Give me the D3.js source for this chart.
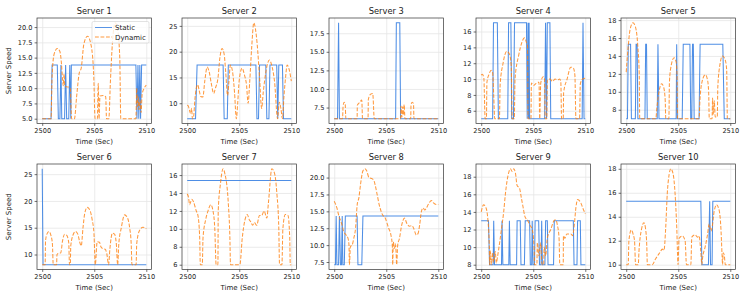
<!DOCTYPE html>
<html>
<head>
<meta charset="utf-8">
<script src="https://cdn.jsdelivr.net/npm/d3@7"></script>
<style>
body { margin: 0; background: #fff; }
text { font-family: "DejaVu Sans", sans-serif; fill: #222; }
.grid line { stroke: #e6e6e6; stroke-width: 0.8; }
.grid path { display: none; }
.axis path, .axis line { stroke: #333; stroke-width: 0.7; }
</style>
</head>
<body>
<div id="chart"></div>
<script>
// chart values
const servers = ['Server 1', 'Server 2', 'Server 3', 'Server 4', 'Server 5',
                 'Server 6', 'Server 7', 'Server 8', 'Server 9', 'Server 10'];
const xTicks = [2500, 2505, 2510];
const yTicks = [
    [5, 7.5, 10, 12.5, 15, 17.5, 20],
    [10, 15, 20, 25],
    [7.5, 10, 12.5, 15, 17.5],
    [6, 8, 10, 12, 14, 16],
    [8, 10, 12, 14, 16, 18],
    [10, 15, 20, 25],
    [6, 8, 10, 12, 14, 16],
    [7.5, 10, 12.5, 15, 17.5, 20],
    [8, 10, 12, 14, 16, 18],
    [10, 12, 14, 16, 18]
];

const static1 = [[2500,5],[2500.85,5],[2500.95,13.8],[2501.45,13.8],[2501.55,5],[2501.7,5],[2501.8,13.8],[2501.88,5],[2502.15,5],[2502.25,13.8],[2502.35,5],[2502.55,5],[2502.65,13.8],[2502.75,5],[2502.8,13.8],[2509.0,13.8],[2509.1,5],[2509.2,13.8],[2509.28,5],[2509.38,13.8],[2509.45,5],[2509.55,13.8],[2510,13.8]];
const dynamic1 = [[2500,5],[2500.85,5],[2500.95,12],[2501.15,15.6],[2501.45,16.5],[2501.7,16],[2501.85,14],[2501.95,11.5],[2502.02,10.4],[2502.1,12.3],[2502.18,10.3],[2502.45,10.2],[2502.7,10],[2502.82,5],[2503.1,5],[2503.3,8.5],[2503.55,12.4],[2503.75,13.3],[2504.0,17.2],[2504.35,18.5],[2504.7,17],[2504.95,12],[2505.08,5],[2505.3,5],[2505.38,10.8],[2505.46,5],[2505.55,8.7],[2505.85,8.8],[2506.1,8.6],[2506.18,5],[2506.4,5],[2506.55,11],[2506.75,17.5],[2507.0,20.7],[2507.25,19.5],[2507.45,15],[2507.55,5],[2509.0,5],[2509.08,10],[2509.15,7],[2509.22,8.6],[2509.3,6.5],[2509.4,8],[2509.5,6],[2509.6,9],[2509.8,10],[2510,10.5]];

const static2 = [[2500,7],[2500.8,7],[2500.95,17.4],[2503.45,17.4],[2503.55,7],[2503.85,7],[2503.95,17.4],[2506.6,17.4],[2506.7,7],[2506.85,7],[2506.95,17.4],[2507.55,17.4],[2507.65,7],[2507.85,7],[2507.95,17.4],[2508.6,17.4],[2508.7,7],[2508.8,17.4],[2509.15,17.4],[2509.25,7],[2510,7]];
const dynamic2 = [[2500,9.6],[2500.1,9.5],[2500.2,8.8],[2500.32,8],[2500.42,9],[2500.5,7],[2500.6,7.2],[2500.75,11],[2501.0,13.6],[2501.15,12.5],[2501.3,11.3],[2501.5,11.2],[2501.7,14.5],[2501.92,17],[2502.1,16.2],[2502.3,14],[2502.55,11.9],[2502.72,13],[2502.95,14.8],[2503.15,19],[2503.35,20.6],[2503.55,19.5],[2503.7,16],[2503.88,11.5],[2504.0,14],[2504.15,17.4],[2504.35,16.2],[2504.55,12],[2504.72,7],[2504.85,10],[2505.0,14.5],[2505.27,16.8],[2505.5,15.5],[2505.7,13.5],[2505.85,10],[2506.0,14],[2506.2,21],[2506.4,25.6],[2506.55,24.5],[2506.72,21.5],[2506.95,15],[2507.15,9],[2507.3,12],[2507.55,16],[2507.9,18.4],[2508.1,17.5],[2508.4,14],[2508.68,7],[2508.85,10.2],[2509.0,9],[2509.15,7],[2509.3,11.5],[2509.45,15],[2509.6,17.4],[2509.8,16.5],[2510,14.3]];

const static3 = [[2500,6],[2500.32,6],[2500.42,18.9],[2500.5,6],[2505.9,6],[2505.97,18.9],[2506.3,18.9],[2506.38,6],[2510,6]];
const dynamic3 = [[2500,6],[2500.8,6],[2500.85,7.6],[2500.95,8.2],[2501.05,8.1],[2501.12,6],[2502.2,6],[2502.22,7.8],[2502.45,8.2],[2502.65,8.5],[2502.72,6],[2503.25,6],[2503.28,8.6],[2503.5,9.3],[2503.7,9.4],[2503.85,6],[2506.38,6],[2506.42,7.7],[2506.5,6.2],[2506.58,7.6],[2506.65,6.5],[2506.72,7.9],[2506.8,6],[2507.35,6],[2507.38,7.9],[2507.5,8.2],[2507.62,8],[2507.66,6],[2510,6]];

const static4 = [[2500,5],[2501.1,5],[2501.18,17.1],[2501.55,17.1],[2501.65,5],[2502.55,5],[2502.63,17.1],[2502.85,17.1],[2502.93,5],[2503.1,5],[2503.2,17.1],[2504.35,17.1],[2504.42,5],[2504.5,17.1],[2504.55,5],[2504.6,17.1],[2504.65,5],[2506.1,5],[2506.18,17.1],[2506.28,5],[2506.35,17.1],[2506.6,17.1],[2506.68,5],[2509.7,5],[2509.78,17.1],[2509.88,5],[2510,5]];
const dynamic4 = [[2500,10.5],[2500.1,10.6],[2500.25,10.2],[2500.38,5],[2500.5,5],[2500.55,9.6],[2500.75,10.6],[2500.95,11.1],[2501.1,10.8],[2501.2,8],[2501.3,5],[2501.75,5],[2501.82,9.3],[2502.1,12],[2502.45,13.5],[2502.7,13.2],[2502.88,11.8],[2502.98,5],[2503.18,5],[2503.25,10],[2503.6,13],[2503.9,14.6],[2504.15,15.2],[2504.35,14.6],[2504.45,14.2],[2504.5,5],[2504.78,5],[2504.82,9.5],[2505.05,9.2],[2505.3,9.5],[2505.55,9.6],[2505.62,5],[2505.72,9.5],[2505.95,10.3],[2506.08,10.1],[2506.15,5],[2506.3,5],[2506.35,9.9],[2506.6,10],[2506.85,9.7],[2507.1,10],[2507.35,9.9],[2507.55,10],[2507.65,9.6],[2507.72,5],[2507.88,5],[2507.92,8.3],[2508.25,10],[2508.6,11.5],[2508.85,11.4],[2509.0,10.5],[2509.1,5],[2509.45,5],[2509.52,9.4],[2509.75,10],[2510,10.1]];

const static5 = [[2500,7],[2500.12,7],[2500.2,15.3],[2500.42,15.3],[2500.5,7],[2500.88,7],[2500.95,15.3],[2501.05,15.3],[2501.12,7],[2501.8,7],[2501.87,15.3],[2501.95,15.3],[2502.02,7],[2502.98,7],[2503.05,15.3],[2503.15,7],[2504.8,7],[2504.85,15.3],[2504.92,7],[2505.38,7],[2505.48,15.3],[2506.12,15.3],[2506.2,7],[2506.3,7],[2506.37,15.3],[2506.45,15.3],[2506.53,7],[2507.0,7],[2507.1,15.3],[2509.28,15.3],[2509.42,7],[2510,7]];
const dynamic5 = [[2500,12.2],[2500.19,15],[2500.35,16.8],[2500.65,17.7],[2500.9,17.2],[2501.12,15],[2501.25,12],[2501.3,7],[2502.85,7],[2502.93,8],[2503.15,10],[2503.4,10.9],[2503.6,10.5],[2503.75,9],[2503.8,7],[2504.1,7],[2504.15,11],[2504.3,12.8],[2504.6,13.8],[2504.8,13.3],[2504.88,12],[2504.93,7],[2507.0,7],[2507.08,9],[2507.3,11.2],[2507.6,11.9],[2507.8,11.4],[2507.92,10],[2507.98,7],[2508.25,7],[2508.3,9.3],[2508.36,7.5],[2508.46,9],[2508.55,7.2],[2508.75,7.2],[2508.8,10.5],[2509.0,13],[2509.25,14],[2509.5,13.6],[2509.65,12.5],[2509.72,7],[2510,7]];

const static6 = [[2500,26],[2500.08,8.1],[2510,8.1]];
const dynamic6 = [[2500,8.1],[2500.28,8.1],[2500.32,12.5],[2500.45,13.8],[2500.65,14.3],[2500.85,13.5],[2500.98,12],[2501.06,8.1],[2501.38,8.1],[2501.42,10],[2501.65,10.3],[2501.78,10.3],[2501.95,12.5],[2502.15,13.8],[2502.35,13.6],[2502.55,12.2],[2502.62,8.1],[2502.7,8.1],[2502.74,11.5],[2502.95,13.6],[2503.2,14.3],[2503.42,13.8],[2503.65,12],[2503.75,11.6],[2503.92,15],[2504.08,17.6],[2504.33,18.8],[2504.6,18.2],[2504.8,16.5],[2504.97,14],[2505.1,8.1],[2505.28,12.4],[2505.5,12.3],[2505.65,11.4],[2505.83,11.1],[2506.05,11],[2506.2,10.2],[2506.38,8.1],[2506.5,11],[2506.75,14],[2506.95,13.8],[2507.12,12],[2507.25,8.1],[2507.36,12],[2507.6,15],[2507.92,17.4],[2508.15,17],[2508.4,15],[2508.55,12],[2508.62,8.1],[2509.02,8.1],[2509.08,12],[2509.35,14.5],[2509.68,15.1],[2510,14.8]];

const static7 = [[2500,15.4],[2510,15.4]];
const dynamic7 = [[2500,13.9],[2500.13,13.5],[2500.23,12.7],[2500.45,13.3],[2500.61,13],[2500.87,12],[2501.03,11.5],[2501.2,9],[2501.26,6],[2501.45,6],[2501.52,9],[2501.77,11],[2502.0,12],[2502.26,12.7],[2502.48,12],[2502.65,10],[2502.78,6],[2502.95,6],[2502.98,12],[2503.19,15],[2503.45,16.7],[2503.61,16.2],[2503.94,13],[2504.1,9],[2504.16,6],[2505.06,6],[2505.29,9],[2505.55,11],[2505.77,11.6],[2505.97,11],[2506.1,10.8],[2506.29,10.4],[2506.45,10.7],[2506.68,10.4],[2506.94,11.5],[2507.16,11.5],[2507.39,12],[2507.65,11.2],[2507.81,13],[2508.13,16.7],[2508.39,16.2],[2508.61,14],[2508.8,10],[2508.87,6],[2509.1,6],[2509.19,10],[2509.42,11.6],[2509.68,11.5],[2509.85,9],[2509.9,6],[2510,6]];

const static8 = [[2500,7.1],[2500.12,7.1],[2500.19,14.3],[2500.26,7.1],[2500.42,7.1],[2500.5,14.3],[2500.6,7.1],[2500.7,7.1],[2500.77,14.3],[2500.83,7.1],[2500.97,7.1],[2501.07,14.3],[2502.2,14.3],[2502.28,7.1],[2502.65,7.1],[2502.76,14.3],[2510,14.3]];
const dynamic8 = [[2500,16.5],[2500.26,15.5],[2500.42,14.5],[2500.75,13],[2500.91,12],[2501.14,11.5],[2501.33,11],[2501.42,10],[2501.46,7.1],[2501.56,9.8],[2501.72,10],[2501.88,11],[2502.05,12.5],[2502.21,16],[2502.37,17],[2502.53,19],[2502.76,21],[2502.95,21.3],[2503.12,21],[2503.34,20],[2503.67,19.8],[2503.83,19.5],[2504.06,18],[2504.32,16],[2504.64,14.5],[2504.9,14],[2505.23,12.5],[2505.45,11.5],[2505.58,10],[2505.62,7.1],[2505.68,10.5],[2505.78,9.5],[2505.88,10.2],[2505.95,8.8],[2506.0,7.1],[2506.1,10],[2506.27,11],[2506.49,13],[2506.75,14],[2506.98,13.2],[2507.24,12.8],[2507.47,12.9],[2507.63,12.5],[2507.89,11.5],[2508.05,11.7],[2508.21,13],[2508.38,15],[2508.54,15.5],[2508.7,15.2],[2508.86,15.5],[2509.03,16],[2509.35,16.6],[2509.51,16.3],[2509.84,16],[2510,16]];

const static9 = [[2500,13],[2500.7,13],[2500.8,8],[2501.15,8],[2501.2,13],[2501.28,8],[2501.95,8],[2502.0,13],[2502.08,8],[2502.65,8],[2502.71,13],[2502.78,8],[2503.4,8],[2503.45,13],[2503.75,13],[2503.82,8],[2504.15,8],[2504.23,13],[2504.65,13],[2504.72,8],[2504.85,8],[2504.9,13],[2504.98,8],[2505.12,8],[2505.18,13],[2505.52,13],[2505.6,8],[2505.75,8],[2505.81,13],[2505.88,8],[2506.12,8],[2506.19,13],[2506.35,13],[2506.42,8],[2506.95,8],[2507.02,13],[2508.85,13],[2508.92,8],[2509.2,8],[2509.26,13],[2509.52,13],[2509.58,8],[2510,8]];
const dynamic9 = [[2500,14],[2500.23,14.8],[2500.45,14.5],[2500.65,13],[2500.78,10],[2500.81,8],[2500.87,9.6],[2500.97,8],[2501.1,9.4],[2501.19,8.3],[2501.35,9.5],[2501.45,8.2],[2501.58,9],[2501.77,10.5],[2501.94,12],[2502.16,14],[2502.32,16],[2502.48,17.5],[2502.65,18.5],[2502.81,18.9],[2502.97,18.6],[2503.13,18.9],[2503.29,18.4],[2503.45,17],[2503.68,16.7],[2503.87,15.5],[2504.03,14.5],[2504.19,13.5],[2504.48,13],[2504.68,12.5],[2504.9,12],[2505.08,10],[2505.13,8],[2505.35,8],[2505.39,10.5],[2505.55,9],[2505.65,10],[2505.71,10.5],[2505.8,8.5],[2505.87,8],[2506.0,8],[2506.05,10],[2506.19,9],[2506.35,11],[2506.68,12],[2507.0,13],[2507.16,13.1],[2507.32,12.5],[2507.48,11],[2507.55,8],[2507.88,8],[2507.9,11.3],[2508.03,11],[2508.23,11.5],[2508.61,11.5],[2508.77,11.3],[2508.94,12.5],[2509.1,14.5],[2509.26,15.4],[2509.58,15],[2509.74,14.5],[2510,13.8]];

const static10 = [[2500,15.3],[2507.17,15.3],[2507.27,10],[2507.9,10],[2508.02,15.3],[2508.1,10],[2508.25,10],[2508.32,15.3],[2510,15.3]];
const dynamic10 = [[2500,10],[2500.19,10],[2500.26,12],[2500.48,12.9],[2500.68,12.5],[2500.8,12],[2500.9,10],[2501.16,10],[2501.22,11],[2501.48,13],[2501.7,13.5],[2501.86,13],[2501.98,11.5],[2502.03,10],[2502.5,10],[2502.83,10.5],[2503.22,11],[2503.47,11.3],[2503.63,11.2],[2503.79,13],[2503.95,16],[2504.12,17.5],[2504.28,18],[2504.5,17.6],[2504.69,16],[2504.86,13],[2504.98,10],[2505.08,12.2],[2505.4,12.4],[2505.66,12],[2505.79,10],[2506.21,10],[2506.3,12.3],[2506.62,12.5],[2506.85,12.3],[2507.01,12.4],[2507.17,11],[2507.27,10],[2507.33,10.5],[2507.59,11.5],[2507.81,12.5],[2507.97,13.4],[2508.14,12.8],[2508.23,13],[2508.46,14.5],[2508.68,15],[2508.94,14.5],[2509.1,13],[2509.2,11],[2509.26,10],[2509.32,11],[2509.42,10.8],[2509.52,10],[2510,10]];

const staticSeries = [static1, static2, static3, static4, static5, static6, static7, static8, static9, static10];
const dynamicSeries = [dynamic1, dynamic2, dynamic3, dynamic4, dynamic5, dynamic6, dynamic7, dynamic8, dynamic9, dynamic10];

const W = 747, H = 299;
const colLeft = [37, 182, 329, 476, 621];
const rowTop = [18, 164];
const plotW = 114.5, plotH = 105.5;
const staticColor = '#2f7ae0', dynamicColor = '#ff7f0e';

const svg = d3.select('#chart')
    .append('svg')
    .attr('width', W)
    .attr('height', H);

servers.forEach((name, i) => {
    const col = i % 5, row = Math.floor(i / 5);
    const left = colLeft[col], top = rowTop[row];

    const x = d3.scaleLinear()
        .domain([2499.5, 2510.5])
        .range([left, left + plotW]);

    const vals = staticSeries[i].concat(dynamicSeries[i]).map(d => d[1]);
    const lo = d3.min(vals), hi = d3.max(vals), pad = (hi - lo) * 0.05;
    const y = d3.scaleLinear()
        .domain([lo - pad, hi + pad])
        .range([top + plotH, top]);

    const g = svg.append('g');

    g.append('clipPath').attr('id', 'clip' + i)
        .append('rect')
        .attr('x', left).attr('y', top)
        .attr('width', plotW).attr('height', plotH);

    // grid
    g.append('g').attr('class', 'grid')
        .attr('transform', `translate(0,${top + plotH})`)
        .call(d3.axisBottom(x).tickValues(xTicks).tickSize(-plotH).tickFormat(''));
    g.append('g').attr('class', 'grid')
        .attr('transform', `translate(${left},0)`)
        .call(d3.axisLeft(y).tickValues(yTicks[i]).tickSize(-plotW).tickFormat(''));

    // lines
    const staticLine = d3.line().x(d => x(d[0])).y(d => y(d[1]));
    const dynamicLine = d3.line().x(d => x(d[0])).y(d => y(d[1])).curve(d3.curveMonotoneX);

    const lines = g.append('g').attr('clip-path', `url(#clip${i})`);
    lines.append('path')
        .datum(staticSeries[i])
        .attr('d', staticLine)
        .attr('fill', 'none')
        .attr('stroke', staticColor)
        .attr('stroke-opacity', 0.85)
        .attr('stroke-width', 1.05);
    lines.append('path')
        .datum(dynamicSeries[i])
        .attr('d', dynamicLine)
        .attr('fill', 'none')
        .attr('stroke', dynamicColor)
        .attr('stroke-opacity', 0.8)
        .attr('stroke-width', 1.05)
        .attr('stroke-dasharray', '3.8,1.7');

    // axes
    const yFmt = yTicks[i].some(v => v % 1 !== 0) ? d3.format('.1f') : d3.format('d');
    const xAxis = g.append('g').attr('class', 'axis')
        .attr('transform', `translate(0,${top + plotH})`)
        .call(d3.axisBottom(x).tickValues(xTicks).tickSize(2.4).tickPadding(2.2).tickFormat(d3.format('d')));
    const yAxis = g.append('g').attr('class', 'axis')
        .attr('transform', `translate(${left},0)`)
        .call(d3.axisLeft(y).tickValues(yTicks[i]).tickSize(2.4).tickPadding(2.2).tickFormat(yFmt));
    [xAxis, yAxis].forEach(a => {
        a.selectAll('path.domain').remove();
        a.selectAll('text').attr('font-size', 6.6).attr('font-family', '"DejaVu Sans", sans-serif').attr('fill', '#222');
    });

    // frame
    g.append('rect')
        .attr('x', left).attr('y', top)
        .attr('width', plotW).attr('height', plotH)
        .attr('fill', 'none')
        .attr('stroke', '#333')
        .attr('stroke-width', 0.7);

    // title and labels
    g.append('text')
        .attr('x', left + plotW / 2).attr('y', top - 4.5)
        .attr('text-anchor', 'middle')
        .attr('font-size', 8.3)
        .text(name);
    g.append('text')
        .attr('x', left + plotW / 2).attr('y', top + plotH + 20.5)
        .attr('text-anchor', 'middle')
        .attr('font-size', 7)
        .text('Time (Sec)');
    if (col === 0) {
        g.append('text')
            .attr('transform', `translate(11,${top + plotH / 2}) rotate(-90)`)
            .attr('text-anchor', 'middle')
            .attr('font-size', 7)
            .text('Server Speed');
    }
});

// legend in the first panel
const leg = svg.append('g').attr('transform', 'translate(92,21.5)');
leg.append('rect')
    .attr('width', 57).attr('height', 21.5).attr('rx', 1.5)
    .attr('fill', '#fff').attr('fill-opacity', 0.8)
    .attr('stroke', '#d5d5d5').attr('stroke-width', 0.7);
[['Static', staticColor, null], ['Dynamic', dynamicColor, '3.8,1.7']].forEach((it, k) => {
    const yy = 6 + k * 9.5;
    leg.append('line')
        .attr('x1', 3).attr('x2', 20).attr('y1', yy).attr('y2', yy)
        .attr('stroke', it[1]).attr('stroke-opacity', 0.8).attr('stroke-width', 1.05)
        .attr('stroke-dasharray', it[2]);
    leg.append('text')
        .attr('x', 23).attr('y', yy + 2.5)
        .attr('font-size', 7)
        .text(it[0]);
});
</script>
</body>
</html>
